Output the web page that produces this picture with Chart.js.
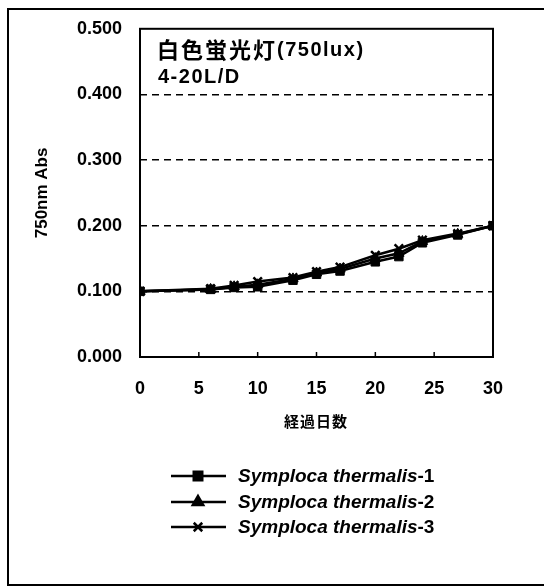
<!DOCTYPE html>
<html>
<head>
<meta charset="utf-8">
<script src="https://cdn.jsdelivr.net/npm/chart.js@4/dist/chart.umd.min.js"></script>
<style>
  html, body { margin: 0; padding: 0; background: #fff; }
</style>
</head>
<body>
<canvas id="chart" width="544" height="587"></canvas>
<script>
// days of culture (経過日数)
const days = [0, 6, 8, 10, 13, 15, 17, 20, 22, 24, 27, 30];
// 750nm absorbance per strain
const strain1 = [0.100, 0.103, 0.106, 0.107, 0.117, 0.126, 0.131, 0.145, 0.153, 0.174, 0.186, 0.200];
const strain2 = [0.100, 0.103, 0.107, 0.110, 0.119, 0.128, 0.134, 0.150, 0.158, 0.176, 0.187, 0.200];
const strain3 = [0.100, 0.104, 0.109, 0.115, 0.121, 0.130, 0.137, 0.155, 0.165, 0.178, 0.188, 0.200];
const seriesNames = ['Symploca thermalis-1', 'Symploca thermalis-2', 'Symploca thermalis-3'];
const pointStyles = ['rect', 'triangle', 'crossRot'];
const xTicks = [0, 5, 10, 15, 20, 25, 30];
const yTicks = [0, 0.1, 0.2, 0.3, 0.4, 0.5];

const SANS = '"Liberation Sans", Arial, sans-serif';
const CJK = '"Noto Sans CJK JP", "Liberation Sans", sans-serif';

function makeSet(name, values, style) {
    return {
        label: name,
        data: days.map((d, i) => ({ x: d, y: values[i] })),
        borderColor: '#000',
        backgroundColor: '#000',
        borderWidth: 2.5,
        pointStyle: style,
        pointRadius: style === 'rect' ? 6 : 6,
        pointBorderWidth: style === 'crossRot' ? 2.5 : 1,
        tension: 0
    };
}

// frame, inward ticks, texts and legend
const decorations = {
    id: 'decorations',
    afterDraw(chart) {
        const ctx = chart.ctx;
        const area = chart.chartArea;
        const xs = chart.scales.x;
        ctx.save();
        ctx.strokeStyle = '#000';
        ctx.fillStyle = '#000';

        // outer frame
        ctx.lineWidth = 2;
        ctx.strokeRect(8, 9, 545, 576);

        // plot box
        ctx.strokeRect(area.left, area.top, area.right - area.left, area.bottom - area.top);

        // x ticks pointing inward
        ctx.lineWidth = 1.5;
        xTicks.forEach(v => {
            const px = xs.getPixelForValue(v);
            ctx.beginPath();
            ctx.moveTo(px, area.bottom);
            ctx.lineTo(px, area.bottom - 5);
            ctx.stroke();
        });

        // condition text inside the plot
        ctx.textBaseline = 'middle';
        ctx.textAlign = 'left';
        ctx.letterSpacing = '2px';
        ctx.font = 'bold 22px ' + CJK;
        ctx.fillText('白色蛍光灯', 157, 50);
        let w = ctx.measureText('白色蛍光灯').width;
        ctx.letterSpacing = '1.5px';
        ctx.font = 'bold 20px ' + SANS;
        ctx.fillText('(750lux)', 157 + w, 50);
        ctx.fillText('4-20L/D', 158, 77);

        // axis titles
        ctx.letterSpacing = '1px';
        ctx.textAlign = 'center';
        ctx.font = 'bold 15px ' + CJK;
        ctx.fillText('経過日数', 316, 421);
        ctx.letterSpacing = '0px';
        ctx.save();
        ctx.translate(42, (area.top + area.bottom) / 2);
        ctx.rotate(-Math.PI / 2);
        ctx.font = 'bold 17px ' + SANS;
        ctx.fillText('750nm Abs', 0, 0);
        ctx.restore();

        // legend
        const rowY = [476, 502, 527];
        ctx.textAlign = 'left';
        chart.data.datasets.forEach((ds, i) => {
            const y = rowY[i];
            ctx.lineWidth = 2.5;
            ctx.beginPath();
            ctx.moveTo(171, y);
            ctx.lineTo(226, y);
            ctx.stroke();
            Chart.helpers.drawPoint(ctx, {
                pointStyle: ds.pointStyle,
                radius: ds.pointRadius,
                borderWidth: ds.pointBorderWidth,
                rotation: 0
            }, 198, y);
            const base = ds.label.replace(/-\d+$/, '');
            const suffix = ds.label.slice(base.length);
            ctx.font = 'italic bold 19px ' + SANS;
            ctx.fillText(base, 238, y + 1);
            const bw = ctx.measureText(base).width;
            ctx.font = 'bold 19px ' + SANS;
            ctx.fillText(suffix, 238 + bw, y + 1);
        });
        ctx.restore();
    }
};

new Chart(document.getElementById('chart'), {
    type: 'line',
    data: {
        datasets: [
            makeSet(seriesNames[0], strain1, pointStyles[0]),
            makeSet(seriesNames[1], strain2, pointStyles[1]),
            makeSet(seriesNames[2], strain3, pointStyles[2])
        ]
    },
    options: {
        responsive: false,
        animation: false,
        layout: {
            padding: { left: 8, right: 51, top: 28, bottom: 170 }
        },
        plugins: {
            legend: { display: false },
            tooltip: { enabled: false }
        },
        scales: {
            x: {
                type: 'linear',
                min: 0,
                max: 30,
                afterBuildTicks: s => { s.ticks = xTicks.map(v => ({ value: v })); },
                ticks: {
                    padding: 13,
                    color: '#000',
                    font: { family: SANS, size: 18, weight: 'bold' }
                },
                grid: { display: false },
                border: { display: false },
                afterFit: s => { s.height = 60; }
            },
            y: {
                min: 0,
                max: 0.5,
                afterBuildTicks: s => { s.ticks = yTicks.map(v => ({ value: v })); },
                ticks: {
                    padding: 18,
                    color: '#000',
                    font: { family: SANS, size: 18, weight: 'bold' },
                    callback: v => v.toFixed(3)
                },
                grid: {
                    drawTicks: false,
                    lineWidth: 1.5,
                    color: c => (c.tick && (c.tick.value === 0 || c.tick.value === 0.5)) ? 'rgba(0,0,0,0)' : '#000'
                },
                border: { display: false, dash: [7, 5] },
                afterFit: s => { s.width = 132; }
            }
        }
    },
    plugins: [decorations]
});
</script>
</body>
</html>
